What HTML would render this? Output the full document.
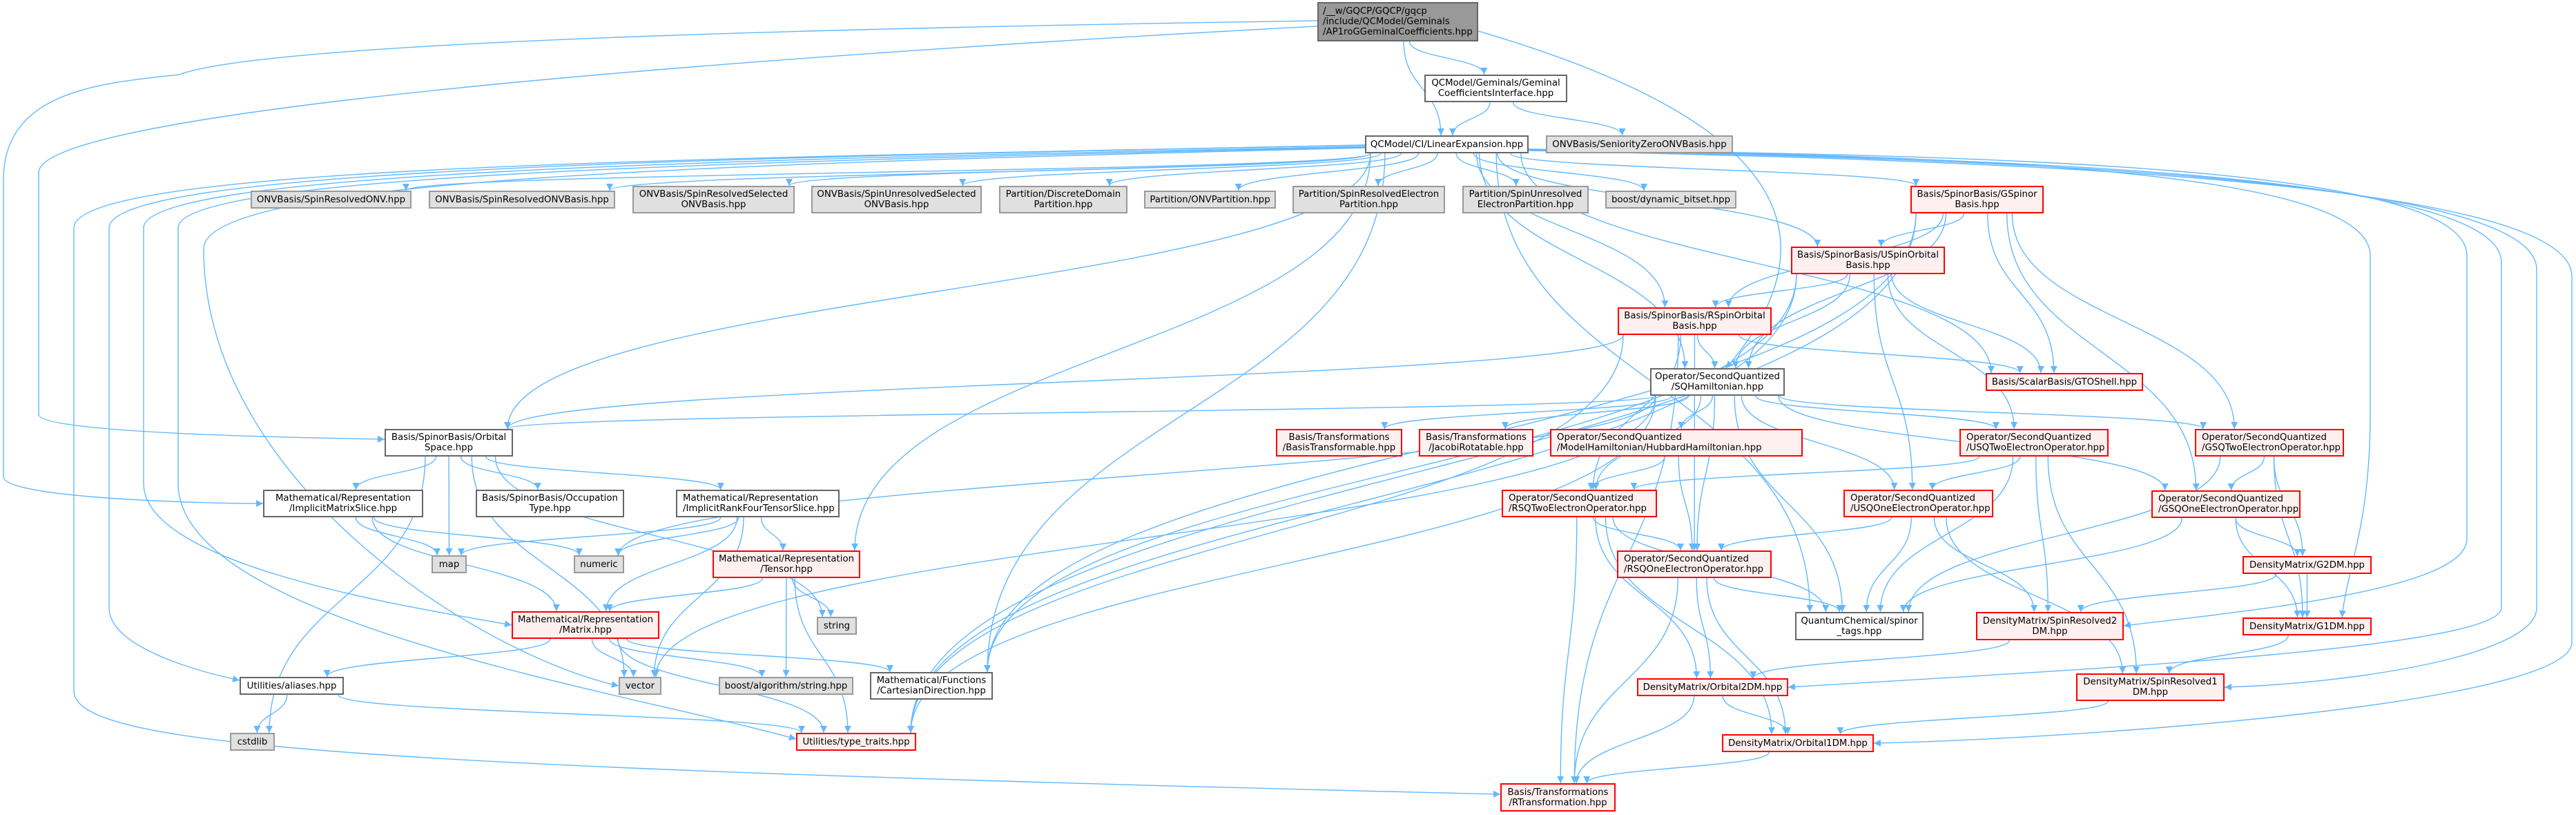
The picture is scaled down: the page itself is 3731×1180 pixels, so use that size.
<!DOCTYPE html>
<html><head><meta charset="utf-8">
<style>
html,body{margin:0;padding:0;background:#fff;}
#wrap{position:relative;width:3731px;height:1180px;overflow:hidden;background:#fff;}
svg{position:absolute;left:0;top:0;}
.n{position:absolute;box-sizing:border-box;display:flex;align-items:center;justify-content:center;text-align:center;font-family:"DejaVu Sans","Liberation Sans",sans-serif;font-size:13.3px;line-height:15px;color:#000;white-space:nowrap;}
.w{background:#fff;border:2px solid #666;}
.g{background:#e0e0e0;border:2px solid #999;}
.r{background:#fff0f0;border:2px solid #f00;}
.k{background:#999;border:2px solid #666;justify-content:flex-start;text-align:left;padding-left:6px;}
</style></head><body><div id="wrap">
<svg id="edges" width="3731" height="1180" xmlns="http://www.w3.org/2000/svg">
<defs><marker id="a" viewBox="0 0 10 10" refX="10" refY="5" markerWidth="10" markerHeight="10" markerUnits="userSpaceOnUse" orient="auto"><path d="M0,0 L10,5 L0,10 z" fill="#63b8ff"/></marker></defs>
<g id="eg" fill="none" stroke="#63b8ff" stroke-width="1.4">
<path marker-end="url(#a)" d="M1908,30 C1400,38 400,55 260,108 C150,120 5,130 5,260 L5,690 C5,722 300,729 381,729"/>
<path marker-end="url(#a)" d="M1908,38 C1300,70 56,150 56,250 L56,600 C56,628 450,634 557,636"/>
<path marker-end="url(#a)" d="M2141,45 C2500,150 2700,300 2500,533"/>
<path marker-end="url(#a)" d="M1977,210 C1000,230 107,240 107,330 L107,1000 C107,1080 500,1110 2173,1150"/>
<path marker-end="url(#a)" d="M1977,210 C1000,230 158,245 158,330 L158,880 C158,940 300,975 347,985"/>
<path marker-end="url(#a)" d="M1977,212 C1000,232 208,250 208,330 L208,700 C208,820 600,880 741,905"/>
<path marker-end="url(#a)" d="M1977,213 C1000,235 258,255 258,330 L258,700 C258,900 900,1000 1153,1070"/>
<path marker-end="url(#a)" d="M1977,214 C1000,238 295,260 295,360 C295,700 700,950 896,993"/>
<path marker-end="url(#a)" d="M2214,216 C2800,225 3433,240 3433,370 L3433,600 C3433,760 3400,820 3392,894"/>
<path marker-end="url(#a)" d="M2214,216 C2900,225 3573,240 3573,370 L3573,780 C3573,850 3300,880 3076,906"/>
<path marker-end="url(#a)" d="M2214,217 C2900,228 3623,250 3623,380 L3623,880 C3623,940 3000,970 2590,995"/>
<path marker-end="url(#a)" d="M2214,217 C2900,230 3674,255 3674,390 L3674,880 C3674,950 3400,990 3222,995"/>
<path marker-end="url(#a)" d="M2214,218 C2900,232 3725,260 3725,400 L3725,930 C3725,1020 3000,1070 2714,1076"/>
</g></svg>

<div class="n k" style="left:1908px;top:3px;width:233px;height:57px;">/__w/GQCP/GQCP/gqcp<br>/include/QCModel/Geminals<br>/AP1roGGeminalCoefficients.hpp</div>
<div class="n w" style="left:2063px;top:108px;width:207px;height:40px;">QCModel/Geminals/Geminal<br>CoefficientsInterface.hpp</div>
<div class="n w" style="left:1977px;top:196px;width:237px;height:26px;">QCModel/CI/LinearExpansion.hpp</div>
<div class="n g" style="left:2239px;top:196px;width:271px;height:26px;">ONVBasis/SeniorityZeroONVBasis.hpp</div>
<div class="n g" style="left:363px;top:276px;width:233px;height:26px;">ONVBasis/SpinResolvedONV.hpp</div>
<div class="n g" style="left:621px;top:276px;width:270px;height:26px;">ONVBasis/SpinResolvedONVBasis.hpp</div>
<div class="n g" style="left:916px;top:269px;width:235px;height:40px;">ONVBasis/SpinResolvedSelected<br>ONVBasis.hpp</div>
<div class="n g" style="left:1175px;top:269px;width:247px;height:40px;">ONVBasis/SpinUnresolvedSelected<br>ONVBasis.hpp</div>
<div class="n g" style="left:1447px;top:269px;width:186px;height:40px;">Partition/DiscreteDomain<br>Partition.hpp</div>
<div class="n g" style="left:1657px;top:276px;width:191px;height:26px;">Partition/ONVPartition.hpp</div>
<div class="n g" style="left:1872px;top:269px;width:221px;height:40px;">Partition/SpinResolvedElectron<br>Partition.hpp</div>
<div class="n g" style="left:2118px;top:269px;width:183px;height:40px;">Partition/SpinUnresolved<br>ElectronPartition.hpp</div>
<div class="n g" style="left:2325px;top:276px;width:190px;height:26px;">boost/dynamic_bitset.hpp</div>
<div class="n r" style="left:2767px;top:269px;width:193px;height:40px;">Basis/SpinorBasis/GSpinor<br>Basis.hpp</div>
<div class="n r" style="left:2594px;top:357px;width:223px;height:40px;">Basis/SpinorBasis/USpinOrbital<br>Basis.hpp</div>
<div class="n r" style="left:2343px;top:445px;width:223px;height:40px;">Basis/SpinorBasis/RSpinOrbital<br>Basis.hpp</div>
<div class="n w" style="left:2390px;top:533px;width:195px;height:40px;">Operator/SecondQuantized<br>/SQHamiltonian.hpp</div>
<div class="n r" style="left:2876px;top:540px;width:228px;height:26px;">Basis/ScalarBasis/GTOShell.hpp</div>
<div class="n w" style="left:557px;top:621px;width:186px;height:40px;">Basis/SpinorBasis/Orbital<br>Space.hpp</div>
<div class="n r" style="left:1848px;top:621px;width:183px;height:40px;">Basis/Transformations<br>/BasisTransformable.hpp</div>
<div class="n r" style="left:2055px;top:621px;width:166px;height:40px;">Basis/Transformations<br>/JacobiRotatable.hpp</div>
<div class="n r" style="left:2245px;top:621px;width:366px;height:40px;justify-content:flex-start;text-align:left;padding-left:8px;">Operator/SecondQuantized<br>/ModelHamiltonian/HubbardHamiltonian.hpp</div>
<div class="n r" style="left:2838px;top:621px;width:216px;height:40px;justify-content:flex-start;text-align:left;padding-left:8px;">Operator/SecondQuantized<br>/USQTwoElectronOperator.hpp</div>
<div class="n r" style="left:3179px;top:621px;width:216px;height:40px;justify-content:flex-start;text-align:left;padding-left:8px;">Operator/SecondQuantized<br>/GSQTwoElectronOperator.hpp</div>
<div class="n w" style="left:381px;top:709px;width:232px;height:40px;">Mathematical/Representation<br>/ImplicitMatrixSlice.hpp</div>
<div class="n w" style="left:689px;top:709px;width:215px;height:40px;">Basis/SpinorBasis/Occupation<br>Type.hpp</div>
<div class="n w" style="left:979px;top:709px;width:237px;height:40px;justify-content:flex-start;text-align:left;padding-left:8px;">Mathematical/Representation<br>/ImplicitRankFourTensorSlice.hpp</div>
<div class="n r" style="left:2175px;top:709px;width:225px;height:40px;justify-content:flex-start;text-align:left;padding-left:8px;">Operator/SecondQuantized<br>/RSQTwoElectronOperator.hpp</div>
<div class="n r" style="left:2670px;top:709px;width:217px;height:40px;justify-content:flex-start;text-align:left;padding-left:8px;">Operator/SecondQuantized<br>/USQOneElectronOperator.hpp</div>
<div class="n r" style="left:3116px;top:710px;width:216px;height:40px;justify-content:flex-start;text-align:left;padding-left:8px;">Operator/SecondQuantized<br>/GSQOneElectronOperator.hpp</div>
<div class="n g" style="left:625px;top:804px;width:51px;height:26px;">map</div>
<div class="n g" style="left:831px;top:804px;width:73px;height:26px;">numeric</div>
<div class="n r" style="left:1032px;top:797px;width:214px;height:40px;">Mathematical/Representation<br>/Tensor.hpp</div>
<div class="n r" style="left:2342px;top:797px;width:224px;height:40px;justify-content:flex-start;text-align:left;padding-left:8px;">Operator/SecondQuantized<br>/RSQOneElectronOperator.hpp</div>
<div class="n r" style="left:3248px;top:805px;width:187px;height:26px;">DensityMatrix/G2DM.hpp</div>
<div class="n g" style="left:1183px;top:893px;width:58px;height:26px;">string</div>
<div class="n r" style="left:741px;top:885px;width:214px;height:40px;">Mathematical/Representation<br>/Matrix.hpp</div>
<div class="n w" style="left:2600px;top:886px;width:186px;height:41px;">QuantumChemical/spinor<br>_tags.hpp</div>
<div class="n r" style="left:2862px;top:886px;width:214px;height:41px;">DensityMatrix/SpinResolved2<br>DM.hpp</div>
<div class="n r" style="left:3248px;top:894px;width:187px;height:26px;">DensityMatrix/G1DM.hpp</div>
<div class="n w" style="left:347px;top:980px;width:151px;height:26px;">Utilities/aliases.hpp</div>
<div class="n g" style="left:896px;top:980px;width:62px;height:26px;">vector</div>
<div class="n g" style="left:1041px;top:980px;width:195px;height:26px;">boost/algorithm/string.hpp</div>
<div class="n w" style="left:1260px;top:973px;width:178px;height:40px;">Mathematical/Functions<br>/CartesianDirection.hpp</div>
<div class="n r" style="left:2371px;top:982px;width:219px;height:26px;">DensityMatrix/Orbital2DM.hpp</div>
<div class="n r" style="left:3007px;top:975px;width:215px;height:40px;">DensityMatrix/SpinResolved1<br>DM.hpp</div>
<div class="n g" style="left:333px;top:1061px;width:65px;height:26px;">cstdlib</div>
<div class="n r" style="left:1153px;top:1061px;width:174px;height:26px;">Utilities/type_traits.hpp</div>
<div class="n r" style="left:2494px;top:1063px;width:220px;height:26px;">DensityMatrix/Orbital1DM.hpp</div>
<div class="n r" style="left:2173px;top:1134px;width:167px;height:41px;">Basis/Transformations<br>/RTransformation.hpp</div>
</div>
<script>
(function(){
var N={root:[1908,3,2141,60],gci:[2063,108,2270,148],lin:[1977,196,2214,222],sz:[2239,196,2510,222],
sronv:[363,276,596,302],srob:[621,276,891,302],srsel:[916,269,1151,309],susel:[1175,269,1422,309],ddp:[1447,269,1633,309],onvp:[1657,276,1848,302],srep:[1872,269,2093,309],suep:[2118,269,2301,309],dbs:[2325,276,2515,302],
gsb:[2767,269,2960,309],usb:[2594,357,2817,397],rsb:[2343,445,2566,485],sqh:[2390,533,2585,573],gto:[2876,540,3104,566],
oss:[557,621,743,661],bt:[1848,621,2031,661],jr:[2055,621,2221,661],hub:[2245,621,2611,661],usq2:[2838,621,3054,661],gsq2:[3179,621,3395,661],
ims:[381,709,613,749],occ:[689,709,904,749],irf:[979,709,1216,749],rsq2:[2175,709,2400,749],usq1:[2670,709,2887,749],gsq1:[3116,710,3332,750],
map:[625,804,676,830],num:[831,804,904,830],ten:[1032,797,1246,837],rsq1:[2342,797,2566,837],g2:[3248,805,3435,831],
str:[1183,893,1241,919],mat:[741,885,955,925],spt:[2600,886,2786,927],sr2:[2862,886,3076,927],g1:[3248,894,3435,920],
ali:[347,980,498,1006],vec:[896,980,958,1006],bas:[1041,980,1236,1006],cart:[1260,973,1438,1013],o2:[2371,982,2590,1008],sr1:[3007,975,3222,1015],
cst:[333,1061,398,1087],tt:[1153,1061,1327,1087],o1:[2494,1063,2714,1089],rtf:[2173,1134,2340,1175]};
var E="root>gci root>lin gci>lin gci>sz lin>sronv lin>srob lin>srsel lin>susel lin>ddp lin>onvp lin>srep lin>suep lin>dbs lin>gsb lin>usb lin>rsb lin>sqh lin>gto lin>oss lin>ten lin>cart lin>spt "+
"gsb>usb gsb>rsb gsb>sqh gsb>gto gsb>gsq1 gsb>gsq2 gsb>tt gsb>cart usb>rsb usb>sqh usb>gto usb>usq1 usb>usq2 usb>tt usb>cart rsb>sqh rsb>gto rsb>rsq1 rsb>rsq2 rsb>rtf rsb>tt rsb>oss "+
"sqh>oss sqh>bt sqh>jr sqh>hub sqh>usq2 sqh>gsq2 sqh>rsq2 sqh>rsq1 sqh>usq1 sqh>gsq1 sqh>spt sqh>tt sqh>vec sqh>num "+
"oss>ims oss>occ oss>irf oss>map oss>str oss>cst oss>vec ims>mat ims>map ims>num irf>mat irf>ten irf>map irf>num irf>vec ten>mat ten>str ten>bas ten>tt "+
"mat>ali mat>vec mat>bas mat>cart mat>tt ali>cst ali>tt hub>rsq2 hub>rsq1 usq2>rsq2 usq2>usq1 usq2>spt usq2>sr2 usq2>sr1 gsq2>gsq1 gsq2>spt gsq2>g2 gsq2>g1 "+
"rsq2>rsq1 rsq2>spt rsq2>o2 rsq2>o1 rsq2>rtf usq1>rsq1 usq1>spt usq1>sr2 usq1>sr1 gsq1>spt gsq1>g2 gsq1>g1 rsq1>spt rsq1>o2 rsq1>o1 rsq1>rtf g2>sr2 g2>g1 g1>sr1 sr2>o2 sr1>o1 o2>o1 o2>rtf o1>rtf";
var g=document.getElementById('eg'),ns='http://www.w3.org/2000/svg';
E.split(/\s+/).forEach(function(e){
 var p=e.split('>'),s=N[p[0]],t=N[p[1]];if(!s||!t)return;
 var scx=(s[0]+s[2])/2,tcx=(t[0]+t[2])/2,d;
 if(t[1]>s[3]+5){
  var sx=Math.max(s[0]+8,Math.min(s[2]-8,scx+(tcx-scx)*0.12));
  var tx=Math.max(t[0]+8,Math.min(t[2]-8,tcx+(scx-tcx)*0.12));
  var sy=s[3],ty=t[1],dy=(ty-sy)*0.5;
  d='M'+sx+','+sy+' C'+sx+','+(sy+dy)+' '+tx+','+(ty-dy)+' '+tx+','+ty;
 }else{
  var sy2=(s[1]+s[3])/2,ty2=(t[1]+t[3])/2;
  var sx2=tcx>scx?s[2]:s[0],tx2=tcx>scx?t[0]:t[2];
  var dx=(tx2-sx2)*0.5;
  d='M'+sx2+','+sy2+' C'+(sx2+dx)+','+sy2+' '+(tx2-dx)+','+ty2+' '+tx2+','+ty2;
 }
 var el=document.createElementNS(ns,'path');el.setAttribute('d',d);el.setAttribute('marker-end','url(#a)');g.appendChild(el);
});
})();
</script>
</body></html>
